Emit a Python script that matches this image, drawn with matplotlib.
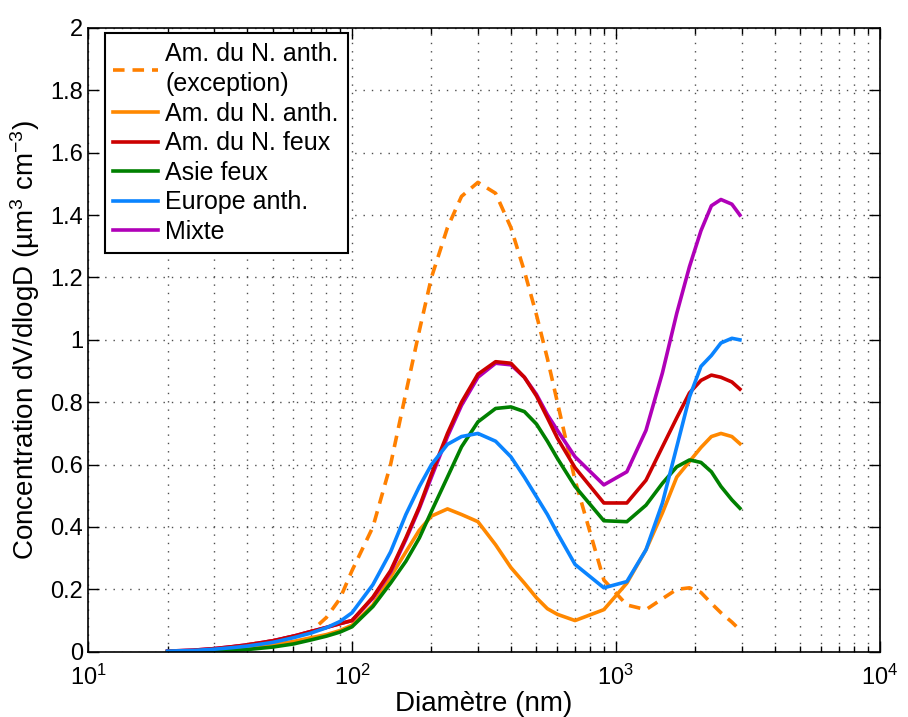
import matplotlib
matplotlib.use('Agg')
import matplotlib.pyplot as plt
from matplotlib.ticker import FixedLocator, FuncFormatter, LogLocator

plt.rcParams['font.family'] = ['Liberation Sans', 'DejaVu Sans']
plt.rcParams['mathtext.fontset'] = 'custom'
plt.rcParams['mathtext.rm'] = 'Liberation Sans'
plt.rcParams['mathtext.it'] = 'Liberation Sans:italic'
plt.rcParams['mathtext.default'] = 'regular'

# diameters (nm)
diam = [20, 25, 30, 35, 40, 50, 60, 70, 80, 90, 100, 120, 140, 160, 180, 200,
        230, 260, 300, 350, 400, 450, 500, 550, 600, 700, 900, 1100, 1300,
        1500, 1700, 1900, 2100, 2300, 2500, 2750, 2950]

# concentrations dV/dlogD (um3 cm-3)
amn_exception = [0.0, 0.003, 0.008, 0.015, 0.022, 0.035, 0.05, 0.065, 0.11, 0.17,
                 0.26, 0.40, 0.60, 0.83, 1.03, 1.20, 1.36, 1.46, 1.505, 1.47,
                 1.36, 1.22, 1.08, 0.94, 0.80, 0.55, 0.23, 0.15, 0.135, 0.17,
                 0.20, 0.205, 0.19, 0.155, 0.125, 0.095, 0.07]
amn_anth = [0.0, 0.002, 0.005, 0.009, 0.013, 0.022, 0.033, 0.045, 0.055, 0.068,
            0.085, 0.15, 0.24, 0.32, 0.39, 0.435, 0.458, 0.44, 0.417, 0.343,
            0.27, 0.22, 0.173, 0.138, 0.12, 0.10, 0.135, 0.22, 0.327, 0.445,
            0.56, 0.61, 0.655, 0.69, 0.70, 0.69, 0.667]
amn_feux = [0.002, 0.005, 0.01, 0.016, 0.022, 0.035, 0.05, 0.065, 0.078, 0.09,
            0.10, 0.175, 0.26, 0.365, 0.465, 0.57, 0.70, 0.80, 0.89, 0.93,
            0.925, 0.88, 0.82, 0.75, 0.685, 0.59, 0.477, 0.477, 0.55, 0.657,
            0.75, 0.83, 0.87, 0.887, 0.88, 0.865, 0.842]
asie_feux = [0.0, 0.0, 0.002, 0.004, 0.007, 0.015, 0.025, 0.038, 0.05, 0.063,
             0.08, 0.145, 0.22, 0.29, 0.365, 0.45, 0.56, 0.657, 0.737, 0.78,
             0.785, 0.77, 0.73, 0.675, 0.62, 0.53, 0.42, 0.417, 0.47, 0.54,
             0.593, 0.615, 0.607, 0.577, 0.53, 0.487, 0.46]
europe_anth = [0.002, 0.004, 0.008, 0.013, 0.018, 0.03, 0.045, 0.06, 0.077, 0.097,
               0.125, 0.215, 0.32, 0.44, 0.53, 0.60, 0.665, 0.69, 0.70, 0.675,
               0.625, 0.56, 0.497, 0.44, 0.38, 0.28, 0.205, 0.225, 0.327, 0.477,
               0.657, 0.817, 0.915, 0.95, 0.99, 1.005, 1.0]
mixte = [0.002, 0.005, 0.01, 0.016, 0.022, 0.035, 0.05, 0.065, 0.078, 0.09,
         0.10, 0.172, 0.255, 0.36, 0.46, 0.56, 0.69, 0.79, 0.88, 0.925,
         0.92, 0.88, 0.825, 0.76, 0.71, 0.625, 0.535, 0.577, 0.71, 0.894,
         1.085, 1.235, 1.35, 1.43, 1.45, 1.435, 1.40]

fig = plt.figure(figsize=(9.08, 7.17), dpi=100)
ax = fig.add_axes([0.097, 0.091, 0.872, 0.870])

lw = 2.6
ax.plot(diam, amn_exception, color='#FF8000', lw=lw, linestyle=(0, (3.2, 2.2)),
        label='Am. du N. anth.\n(exception)')
ax.plot(diam, amn_anth, color='#FF8800', lw=lw, label='Am. du N. anth.')
ax.plot(diam, mixte, color='#B000B8', lw=lw, label='_mixte')
ax.plot(diam, amn_feux, color='#CC0000', lw=lw, label='Am. du N. feux')
ax.plot(diam, asie_feux, color='#008000', lw=lw, label='Asie feux')
ax.plot(diam, europe_anth, color='#0A84FF', lw=lw, label='Europe anth.')
ax.plot([], [], color='#B000B8', lw=lw, label='Mixte')

ax.set_xscale('log')
ax.set_xlim(10, 1e4)
ax.set_ylim(0, 2)
ax.xaxis.set_major_locator(LogLocator(base=10))
ax.xaxis.set_minor_locator(LogLocator(base=10, subs=range(2, 10)))
ax.yaxis.set_major_locator(FixedLocator([i * 0.2 for i in range(11)]))
ax.yaxis.set_major_formatter(FuncFormatter(lambda v, _: '%g' % round(v, 1)))

grid_style = dict(linestyle=(0, (1, 5)), color='0.3', lw=1.0)
ax.grid(True, which='major', **grid_style)
ax.grid(True, which='minor', axis='x', **grid_style)

ax.tick_params(which='both', direction='in', top=True, right=True, labelsize=17)
ax.tick_params(axis='x', which='major', pad=9)
ax.tick_params(which='major', length=8, width=1)
ax.tick_params(which='minor', length=4, width=1)
for s in ax.spines.values():
    s.set_linewidth(1.2)

ax.set_xlabel('Diamètre (nm)', fontsize=20, labelpad=1)
ax.set_ylabel('Concentration dV/dlogD (µm$^3$ cm$^{-3}$)', fontsize=20, labelpad=6)

leg = ax.legend(loc='upper left', bbox_to_anchor=(0.021, 0.992), borderaxespad=0,
                fontsize=18, fancybox=False, edgecolor='black', framealpha=1,
                handlelength=1.8, handletextpad=0.28, labelspacing=0.22,
                borderpad=0.35)
leg.get_texts()[0].set_linespacing(1.35)
leg.get_frame().set_linewidth(1.5)

plt.savefig('out.png', dpi=100, facecolor='white')
